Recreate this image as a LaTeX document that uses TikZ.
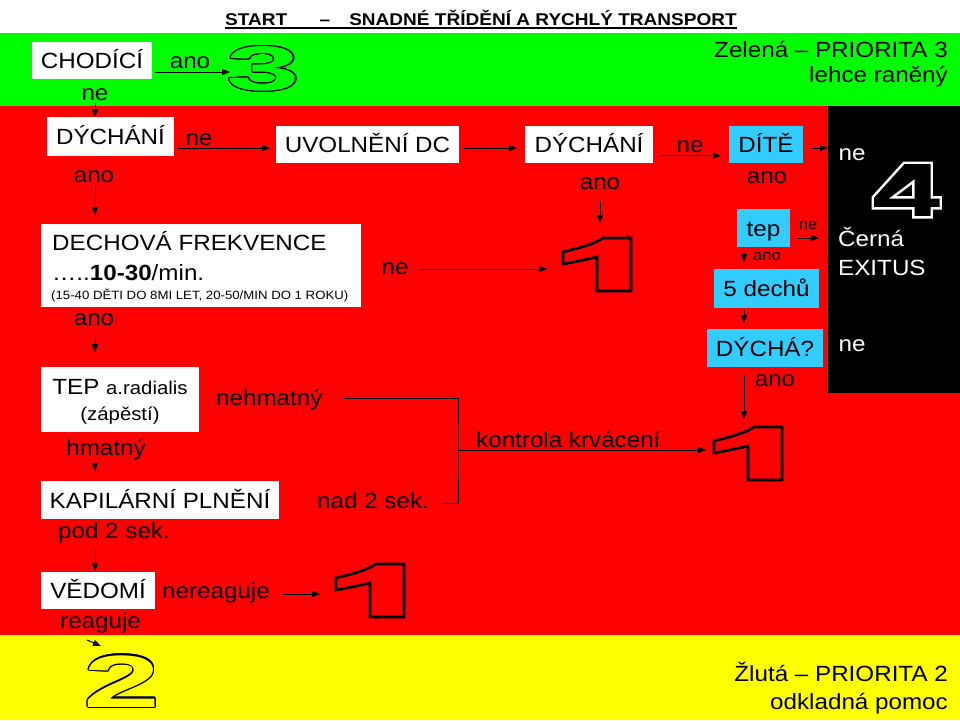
\documentclass[tikz,border=0pt]{standalone}
\usepackage{fontspec}
\setmainfont{Liberation Sans}[FakeStretch=1.1]
\newfontfamily\titlefont{Liberation Sans}[FakeStretch=1.12]
\newfontfamily\digitfont{Liberation Sans}
\usepackage{graphicx}
\usetikzlibrary{arrows.meta}
\definecolor{bgreen}{RGB}{0,255,0}
\definecolor{bred}{RGB}{255,0,0}
\definecolor{byellow}{RGB}{255,255,0}
\definecolor{bcyan}{RGB}{51,204,255}
\newcommand\fs[1]{\fontsize{#1}{#1}\selectfont}
\newcommand\onefig[2]{%
  \begin{scope}[shift={(#1,#2)}]
    \draw[digitline] (40,0) -- (68,0) -- (68,53) -- (34,53) -- (34,19)
      .. controls (23,21.5) and (12,24) .. (0,26) -- (0,14)
      .. controls (15,10) and (30,7) .. (40,0) -- cycle;
  \end{scope}}
\newcommand\outlinedigit[7]{% name, x, baseline, size, xscale, digit, fill
  \foreach \ang in {0,22.5,...,337.5}{%
    \node[anchor=base, inner sep=0pt, text=black, font=\digitfont\fs{#4}\bfseries]
      at ([shift={(\ang:1.3)}] #2,#3) {\scalebox{#5}[1]{#6}};}
  \node[anchor=base, inner sep=0pt, text=#7, font=\digitfont\fs{#4}\bfseries]
    (#1) at (#2,#3) {\scalebox{#5}[1]{#6}};}
\begin{document}
\begin{tikzpicture}[x=1pt, y=-1pt,
  lab/.style={font=\fs{22}, inner sep=0pt, anchor=base},
  small/.style={font=\fs{15}, inner sep=0pt, anchor=base},
  box/.style={fill=white, inner sep=0pt, font=\fs{22}, text height=16pt, text depth=0pt},
  cbox/.style={box, fill=bcyan},
  arr/.style={-{Triangle[length=8pt,width=6pt]}, line width=1pt},
  digitline/.style={line width=2.6pt, line join=miter, draw=black},
  wdigit/.style={line width=2.4pt, line join=miter, draw=white}]
\useasboundingbox (0,0) rectangle (960,720);
% bands
\fill[white] (0,0) rectangle (960,33);
\fill[bgreen] (0,33) rectangle (960,106);
\fill[bred] (0,106) rectangle (960,635);
\fill[byellow] (0,635) rectangle (960,720);
\fill[black] (828,106) rectangle (960,393);
% title
\node[anchor=base west, inner sep=0pt, font=\titlefont\fs{17}\bfseries] (t1) at (225,25) {START};
\node[anchor=base, inner sep=0pt, font=\titlefont\fs{17}\bfseries] (t2) at (325,25) {–};
\node[anchor=base east, inner sep=0pt, font=\titlefont\fs{17}\bfseries] (t3) at (737,25) {SNADNÉ TŘÍDĚNÍ A RYCHLÝ TRANSPORT};
\draw[line width=1.3pt] (t1.base west) ++(0,3) -- ([yshift=-3pt]t3.base east);
% priority labels
\node[lab, anchor=base east] (zel) at (948,57) {Zelená – PRIORITA 3};
\node[lab, anchor=base east] (lehce) at (948,82) {lehce raněný};
\node[lab, anchor=base east] (zluta) at (948,681) {Žlutá – PRIORITA 2};
\node[lab, anchor=base east] (odkl) at (948,709) {odkladná pomoc};
% boxes
\node[box, minimum width=120pt, minimum height=37pt] (chod) at (92,60.5) {CHODÍCÍ};
\node[box, minimum width=127pt, minimum height=39pt] (dych1) at (110.5,136.5) {DÝCHÁNÍ};
\node[box, minimum width=183pt, minimum height=37pt] (uvol) at (367.5,144.5) {UVOLNĚNÍ DC};
\node[box, minimum width=128pt, minimum height=37pt] (dych2) at (589,144.5) {DÝCHÁNÍ};
\node[cbox, minimum width=74pt, minimum height=37pt] (dite) at (766,144.5) {DÍTĚ};
\node[cbox, minimum width=53pt, minimum height=38pt] (tep) at (763.5,228) {tep};
\node[cbox, minimum width=105pt, minimum height=39pt] (dech5) at (766.5,288.5) {5 dechů};
\node[cbox, minimum width=116pt, minimum height=38pt] (dycha) at (765,348) {DÝCHÁ?};
\node[box, minimum width=320pt, minimum height=83pt] (frek) at (201,265.5) {};
\node[lab, anchor=base west] (frek1) at (52,250.5) {DECHOVÁ FREKVENCE};
\node[lab, anchor=base west] (frek2) at (52,280) {…..\textbf{10-30}/min.};
\node[lab, anchor=base west, font=\fs{12}] (frek3) at (51,299.5) {(15-40 DĚTI DO 8MI LET, 20-50/MIN DO 1 ROKU)};
\node[box, minimum width=158pt, minimum height=65pt] (tepr) at (120,399.5) {};
\node[lab] (tep1) at (120,394) {TEP {\fs{18.5}a.radialis}};
\node[lab, font=\fs{18.5}] (tep2) at (120,420) {(zápěstí)};
\node[box, minimum width=238pt, minimum height=38pt] (kap) at (160,500) {KAPILÁRNÍ PLNĚNÍ};
\node[box, minimum width=114pt, minimum height=37pt] (ved) at (98,590.5) {VĚDOMÍ};
% labels
\node[lab] (l1) at (190,68) {ano};
\node[lab] (l2) at (95,100) {ne};
\node[lab] (l3) at (199,145) {ne};
\node[lab] (l4) at (94,182.5) {ano};
\node[lab] (l5) at (690,152) {ne};
\node[lab] (l6) at (600,189) {ano};
\node[lab] (l7) at (767,183) {ano};
\node[lab, text=white] (l8) at (852,160.5) {ne};
\node[small] (l9) at (808,229) {ne};
\node[small] (l10) at (767,260.5) {ano};
\node[lab, anchor=base west, text=white] (cerna) at (838,246.5) {Černá};
\node[lab, anchor=base west, text=white] (exitus) at (838,275) {EXITUS};
\node[lab, text=white] (l11) at (852,351.5) {ne};
\node[lab] (l12) at (775,386.5) {ano};
\node[lab] (l13) at (395,274) {ne};
\node[lab] (l14) at (94,325) {ano};
\node[lab, anchor=base west] (nehm) at (216,405) {nehmatný};
\node[lab, anchor=base west] (kontr) at (476,447) {kontrola krvácení};
\node[lab, anchor=base west] (nad) at (317,508) {nad 2 sek.};
\node[lab] (hmat) at (106,455) {hmatný};
\node[lab] (pod) at (114,538) {pod 2 sek.};
\node[lab, anchor=base west] (nere) at (162,598) {nereaguje};
\node[lab, anchor=base west] (reag) at (60,628) {reaguje};
% big digits
\outlinedigit{three}{263.5}{90.5}{63}{2.1}{3}{bgreen}
\outlinedigit{two}{122}{707}{74}{1.87}{2}{byellow}
\onefig{563}{238}
\onefig{714}{427}
\onefig{336}{564}
\draw[wdigit] (904,162.7) -- (931.7,162.7) -- (931.7,197.3) -- (940.7,197.3) -- (940.7,208.3)
  -- (931.7,208.3) -- (931.7,217.3) -- (913.3,217.3) -- (913.3,208.3) -- (872.7,208.3)
  -- (872.7,197.3) -- cycle;
\draw[wdigit] (913.3,181.7) -- (913.3,197.3) -- (892.7,197.3) -- cycle;
% connector end points
\coordinate (a1s) at (155,72);   \coordinate (a1e) at (230,72);
\coordinate (a2s) at (95,103);   \coordinate (a2e) at (95,117);
\coordinate (a3s) at (177,148);  \coordinate (a3e) at (270,148);
\coordinate (a4s) at (464,148);  \coordinate (a4e) at (517,148);
\coordinate (a5s) at (661,155.7);\coordinate (a5e) at (721,155.7);
\coordinate (a6s) at (812,148);  \coordinate (a6e) at (828,148);
\coordinate (a7s) at (600,201);  \coordinate (a7e) at (600,223);
\coordinate (a8s) at (420,269);  \coordinate (a8e) at (547,269);
\coordinate (a9s) at (797,238);  \coordinate (a9e) at (819,238);
\coordinate (a10s) at (744,253); \coordinate (a10e) at (744,262);
\coordinate (a11s) at (744,309); \coordinate (a11e) at (744,323);
\coordinate (a12s) at (744,375); \coordinate (a12e) at (744,419);
\coordinate (a13s) at (95,186);  \coordinate (a13e) at (95,215);
\coordinate (a14s) at (95,337);  \coordinate (a14e) at (95,352);
\coordinate (a15s) at (95,462);  \coordinate (a15e) at (95,471);
\coordinate (a16s) at (95,549);  \coordinate (a16e) at (95,571);
\coordinate (a17s) at (283,594); \coordinate (a17e) at (320,594);
\coordinate (a18s) at (87,640);  \coordinate (a18e) at (101,646);
\coordinate (bt) at (344,398);   \coordinate (bb) at (442,503);
\coordinate (bj) at (458,450);   \coordinate (bend) at (706,450);
\foreach \i in {1,...,18}{\draw[arr] (a\i s) -- (a\i e);}
\draw[line width=1pt] (bt) -| (bj) |- (bb);
\draw[arr] (bj) -- (bend);
\end{tikzpicture}
\end{document}
